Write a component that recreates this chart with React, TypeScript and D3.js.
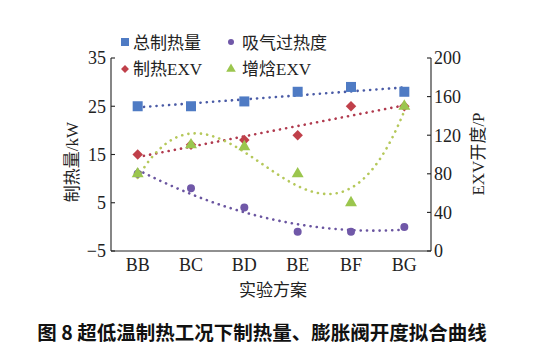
import React from "react";
import * as d3 from "d3";

const categories = ["BB", "BC", "BD", "BE", "BF", "BG"];
// left axis (kW)
const totalHeat = [25, 25, 26, 28, 29, 28];
const superheat = [11, 8, 4, -1, -1, 0];
// right axis (P)
const heatEXV = [100, 110, 115, 120, 150, 150];
const eviEXV = [80, 110, 108, 80, 50, 150];

const leftTicks = [-5, 5, 15, 25, 35];
const rightTicks = [0, 40, 80, 120, 160, 200];

const W = 549;
const H = 350;
const plotLeft = 111;
const plotRight = 431;
const plotTop = 58;
const plotBottom = 251;

const C_BLUE = "#4F7BC4";
const C_BLUE_T = "#4A5BA6";
const C_RED = "#C0404A";
const C_RED_T = "#B03A4E";
const C_GREEN = "#9BC64E";
const C_GREEN_T = "#B5C85A";
const C_PURPLE = "#7058A8";
const C_PURPLE_T = "#6A55A0";

const FONT = "'Liberation Serif', 'Noto Sans CJK SC', serif";

function polyFit(ys: number[], degree: number): (x: number) => number {
  const n = degree + 1;
  const A: number[][] = Array.from({ length: n }, () => new Array(n + 1).fill(0));
  ys.forEach((y, x) => {
    for (let i = 0; i < n; i++) {
      for (let j = 0; j < n; j++) A[i][j] += Math.pow(x, i + j);
      A[i][n] += y * Math.pow(x, i);
    }
  });
  for (let c = 0; c < n; c++) {
    let p = c;
    for (let r = c + 1; r < n; r++) if (Math.abs(A[r][c]) > Math.abs(A[p][c])) p = r;
    [A[c], A[p]] = [A[p], A[c]];
    for (let r = 0; r < n; r++) {
      if (r === c) continue;
      const f = A[r][c] / A[c][c];
      for (let k = c; k <= n; k++) A[r][k] -= f * A[c][k];
    }
  }
  const coef = A.map((row, i) => row[n] / row[i]);
  return (x: number) => coef.reduce((s, c, i) => s + c * Math.pow(x, i), 0);
}

export default function App() {
  const x = d3
    .scalePoint<string>()
    .domain(categories)
    .range([plotLeft, plotRight])
    .padding(0.5);
  const yL = d3.scaleLinear().domain([-5, 35]).range([plotBottom, plotTop]);
  const yR = d3.scaleLinear().domain([0, 200]).range([plotBottom, plotTop]);

  const xi = (i: number) => x(categories[0])! + i * x.step();

  const trend = (ys: number[], deg: number, scale: (v: number) => number) => {
    const f = polyFit(ys, deg);
    const pts: [number, number][] = d3
      .range(0, ys.length - 1 + 0.0001, 0.05)
      .map((t) => [xi(t), scale(f(t))]);
    return d3.line()(pts) || "";
  };

  const dotStyle = {
    fill: "none",
    strokeWidth: 2.6,
    strokeDasharray: "0.1 6.2",
    strokeLinecap: "round" as const,
  };

  const sq = 10;
  const diamond = d3.symbol().type(d3.symbolDiamond2).size(70)() || "";
  const triangle = d3.symbol().type(d3.symbolTriangle).size(62)() || "";

  return (
    <svg
      width={W}
      height={H}
      style={{ position: "absolute", left: 0, top: 0, background: "#fff" }}
    >
      {/* trend lines */}
      <path d={trend(totalHeat, 1, yL)} stroke={C_BLUE_T} {...dotStyle} />
      <path d={trend(superheat, 2, yL)} stroke={C_PURPLE_T} {...dotStyle} />
      <path d={trend(heatEXV, 1, yR)} stroke={C_RED_T} {...dotStyle} />
      <path d={trend(eviEXV, 3, yR)} stroke={C_GREEN_T} {...dotStyle} />

      {/* markers */}
      {totalHeat.map((v, i) => (
        <rect
          key={"b" + i}
          x={xi(i) - sq / 2}
          y={yL(v) - sq / 2}
          width={sq}
          height={sq}
          fill={C_BLUE}
        />
      ))}
      {superheat.map((v, i) => (
        <circle key={"p" + i} cx={xi(i)} cy={yL(v)} r={4} fill={C_PURPLE} />
      ))}
      {heatEXV.map((v, i) => (
        <path
          key={"r" + i}
          d={diamond}
          transform={`translate(${xi(i)},${yR(v)})`}
          fill={C_RED}
        />
      ))}
      {eviEXV.map((v, i) => (
        <path
          key={"g" + i}
          d={triangle}
          transform={`translate(${xi(i)},${yR(v)})`}
          fill={C_GREEN}
        />
      ))}

      {/* axes */}
      <g stroke="#222" strokeWidth={1.1} fill="none">
        <line x1={plotLeft} x2={plotLeft} y1={plotTop} y2={plotBottom} />
        <line x1={plotRight} x2={plotRight} y1={plotTop} y2={plotBottom} />
        <line x1={plotLeft} x2={plotRight} y1={plotBottom} y2={plotBottom} />
        {leftTicks.map((t) => (
          <line key={"lt" + t} x1={plotLeft} x2={plotLeft + 4} y1={yL(t)} y2={yL(t)} />
        ))}
        {rightTicks.map((t) => (
          <line key={"rt" + t} x1={plotRight - 4} x2={plotRight} y1={yR(t)} y2={yR(t)} />
        ))}
      </g>
      <g fontFamily={FONT} fontSize={18} fill="#222">
        {leftTicks.map((t) => (
          <text key={"ll" + t} x={plotLeft - 5} y={yL(t)} dy="0.35em" textAnchor="end">
            {t < 0 ? "\u2212" + Math.abs(t) : t}
          </text>
        ))}
        {rightTicks.map((t) => (
          <text key={"rl" + t} x={plotRight + 3} y={yR(t)} dy="0.35em" textAnchor="start">
            {t}
          </text>
        ))}
        {categories.map((c) => (
          <text key={"c" + c} x={x(c)} y={271} textAnchor="middle">
            {c}
          </text>
        ))}
        <text x={273} y={296} textAnchor="middle" fontSize={17}>
          实验方案
        </text>
        <text
          transform={`translate(78,162) rotate(-90)`}
          textAnchor="middle"
          fontSize={17}
        >
          制热量/kW
        </text>
        <text
          transform={`translate(484,154) rotate(-90)`}
          textAnchor="middle"
          fontSize={17}
        >
          EXV开度/P
        </text>
      </g>

      {/* legend */}
      <g fontFamily={FONT} fontSize={17} fill="#222">
        <rect x={121} y={38} width={8} height={8} fill={C_BLUE} />
        <text x={133} y={49}>总制热量</text>
        <circle cx={231} cy={42} r={3} fill={C_PURPLE} />
        <text x={242} y={49}>吸气过热度</text>
        <path d={d3.symbol().type(d3.symbolDiamond2).size(40)() || ""} transform="translate(125,69)" fill={C_RED} />
        <text x={133} y={75}>制热EXV</text>
        <path d={d3.symbol().type(d3.symbolTriangle).size(40)() || ""} transform="translate(231,69)" fill={C_GREEN} />
        <text x={242} y={75}>增焓EXV</text>
      </g>

      {/* caption */}
      <text
        x={262}
        y={340}
        textAnchor="middle"
        fontFamily="'Noto Sans CJK SC', sans-serif"
        fontWeight="bold"
        fontSize={19.5}
        fill="#111"
      >
        图 8 超低温制热工况下制热量、膨胀阀开度拟合曲线
      </text>
    </svg>
  );
}
